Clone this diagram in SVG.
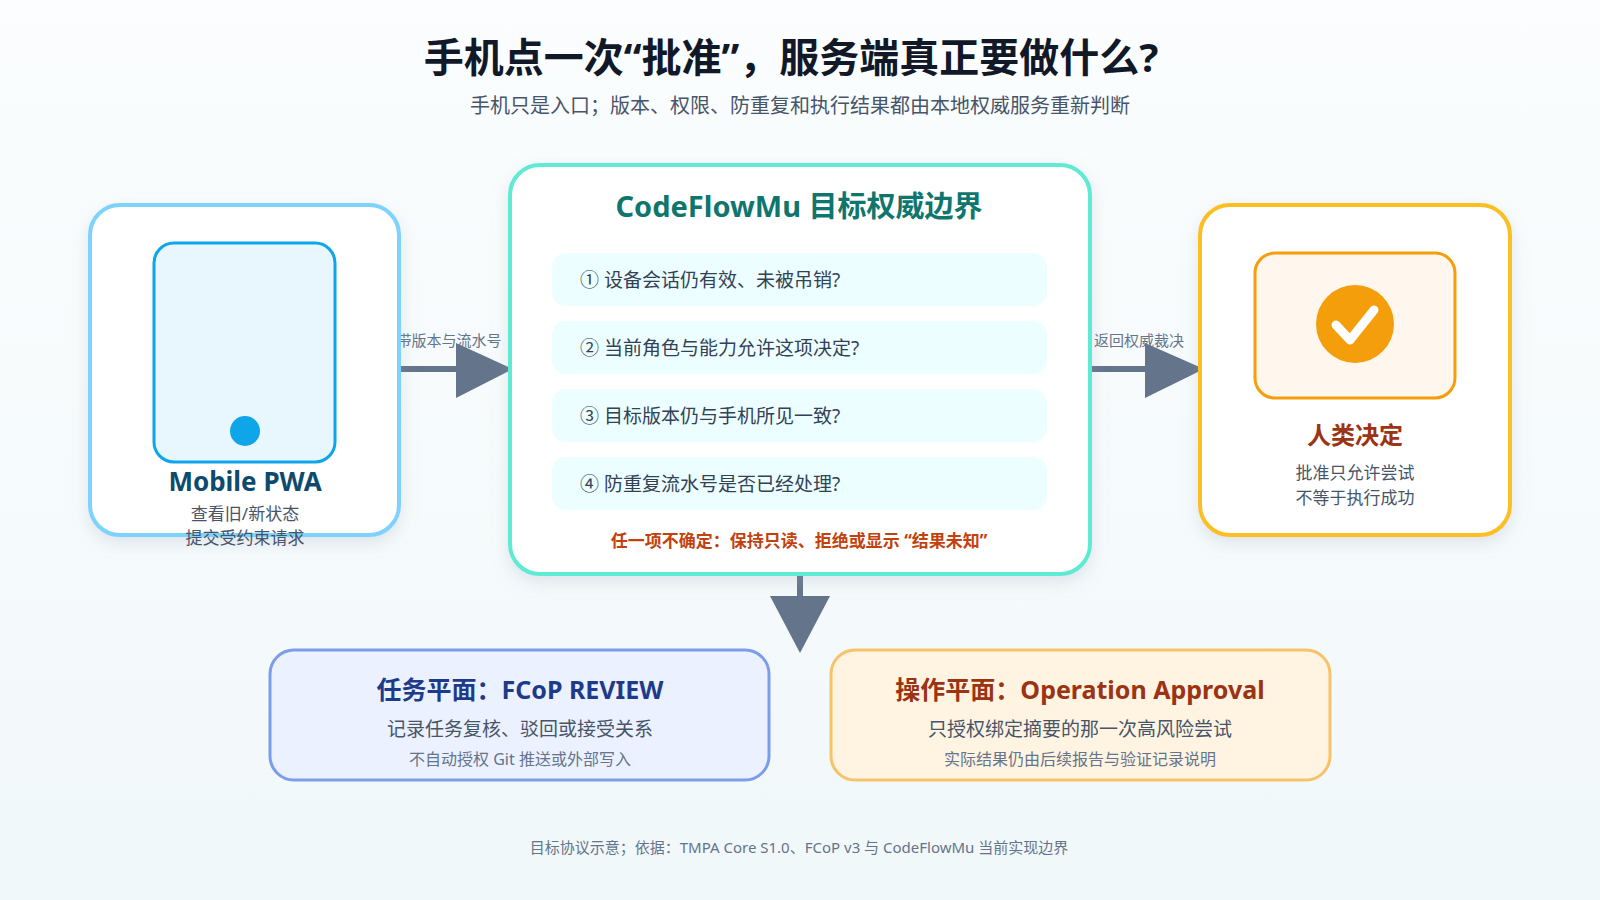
<svg xmlns="http://www.w3.org/2000/svg" width="1600" height="900" viewBox="0 0 1600 900">
<defs>
<linearGradient id="bg" x1="0" y1="0" x2="0" y2="1"><stop offset="0" stop-color="#fbfdfe"/><stop offset="1" stop-color="#f1f8fa"/></linearGradient>
<filter id="sh" x="-10%" y="-10%" width="120%" height="130%"><feDropShadow dx="0" dy="6" stdDeviation="8" flood-color="#94a3b8" flood-opacity="0.25"/></filter>
</defs>
<style>
text{font-family:"Noto Sans","Noto Sans CJK SC",sans-serif;text-anchor:middle}
.row{fill:#ecfeff}
.rt{font-size:19px;fill:#334155;text-anchor:start}
.sub{font-size:17px;fill:#475569}
.small{font-size:16px;fill:#64748b}
.lbl{font-size:15px;fill:#64748b}
</style>
<rect width="1600" height="900" fill="url(#bg)"/>
<text x="791" y="72" font-size="40" font-weight="bold" fill="#111827">手机点一次“批准”，服务端真正要做什么?</text>
<text x="800" y="113" font-size="20" fill="#475569">手机只是入口；版本、权限、防重复和执行结果都由本地权威服务重新判断</text>

<g id="connectors">
<line x1="399" y1="369" x2="458" y2="369" stroke="#64748b" stroke-width="6"/>
<polygon points="456,343 513,369 456,398" fill="#64748b"/>
<text class="lbl" x="449" y="346">带版本与流水号</text>
<line x1="1090" y1="369" x2="1147" y2="369" stroke="#64748b" stroke-width="6"/>
<polygon points="1145,343 1204,369 1145,398" fill="#64748b"/>
<text class="lbl" x="1139" y="346">返回权威裁决</text>
<line x1="800" y1="574" x2="800" y2="598" stroke="#64748b" stroke-width="6"/>
<polygon points="770,596 830,596 800,653" fill="#64748b"/>
</g>

<g id="mobile">
<rect x="90" y="205" width="309" height="330" rx="30" fill="#fff" stroke="#7dd3fc" stroke-width="4" filter="url(#sh)"/>
<rect x="154" y="243" width="181" height="219" rx="20" fill="#e8f6fe" stroke="#0ea5e9" stroke-width="3"/>
<circle cx="245" cy="431" r="15" fill="#0ea5e9"/>
<text x="245" y="491" font-size="26" font-weight="bold" fill="#0c4a6e">Mobile PWA</text>
<text class="sub" x="245" y="520">查看旧/新状态</text>
<text class="sub" x="245" y="544">提交受约束请求</text>
</g>

<g id="authority">
<rect x="510" y="165" width="580" height="409" rx="30" fill="#fff" stroke="#5eead4" stroke-width="4" filter="url(#sh)"/>
<text x="799" y="217" font-size="29" font-weight="bold" fill="#0f766e">CodeFlowMu 目标权威边界</text>
<rect class="row" x="552" y="253" width="495" height="53" rx="14"/>
<text class="rt" x="580" y="287">① 设备会话仍有效、未被吊销?</text>
<rect class="row" x="552" y="321" width="495" height="53" rx="14"/>
<text class="rt" x="580" y="355">② 当前角色与能力允许这项决定?</text>
<rect class="row" x="552" y="389" width="495" height="53" rx="14"/>
<text class="rt" x="580" y="423">③ 目标版本仍与手机所见一致?</text>
<rect class="row" x="552" y="457" width="495" height="53" rx="14"/>
<text class="rt" x="580" y="491">④ 防重复流水号是否已经处理?</text>
<text x="799" y="547" font-size="17" font-weight="bold" fill="#c2410c">任一项不确定：保持只读、拒绝或显示 “结果未知”</text>
</g>

<g id="human">
<rect x="1200" y="205" width="310" height="330" rx="30" fill="#fff" stroke="#fbbf24" stroke-width="4" filter="url(#sh)"/>
<rect x="1255" y="253" width="200" height="145" rx="20" fill="#fff7ed" stroke="#f59e0b" stroke-width="3"/>
<circle cx="1355" cy="324" r="39" fill="#f59e0b"/>
<polyline points="1336,325 1350,340 1374,310" fill="none" stroke="#fff" stroke-width="9" stroke-linecap="round" stroke-linejoin="round"/>
<text x="1355" y="444" font-size="24" font-weight="bold" fill="#9a3412">人类决定</text>
<text class="sub" x="1355" y="479">批准只允许尝试</text>
<text class="sub" x="1355" y="504">不等于执行成功</text>
</g>

<g id="task-plane">
<rect x="270" y="650" width="499" height="130" rx="24" fill="#ebf1ff" stroke="#7c9ee8" stroke-width="3"/>
<text x="520" y="699" font-size="25" font-weight="bold" fill="#1e3a8a">任务平面：FCoP REVIEW</text>
<text x="520" y="736" font-size="19" fill="#475569">记录任务复核、驳回或接受关系</text>
<text class="small" x="520" y="765">不自动授权 Git 推送或外部写入</text>
</g>

<g id="op-plane">
<rect x="831" y="650" width="499" height="130" rx="24" fill="#fff3e2" stroke="#f6c36b" stroke-width="3"/>
<text x="1080" y="699" font-size="25" font-weight="bold" fill="#9a3412">操作平面：Operation Approval</text>
<text x="1080" y="736" font-size="19" fill="#475569">只授权绑定摘要的那一次高风险尝试</text>
<text class="small" x="1080" y="765">实际结果仍由后续报告与验证记录说明</text>
</g>

<text x="799" y="853" font-size="15" fill="#64748b">目标协议示意；依据：TMPA Core S1.0、FCoP v3 与 CodeFlowMu 当前实现边界</text>
</svg>
